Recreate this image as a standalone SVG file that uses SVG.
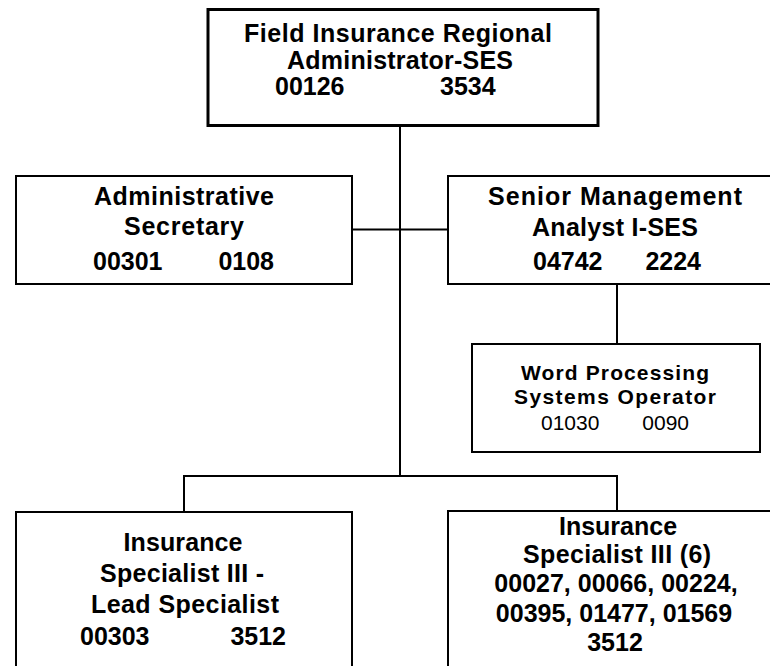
<svg xmlns="http://www.w3.org/2000/svg" width="770" height="666" viewBox="0 0 770 666">
  <style>
    .box { fill: #ffffff; stroke: #000000; stroke-width: 2; }
    .top { stroke-width: 3; }
    .wire { fill: none; stroke: #000000; stroke-width: 2; }
    .t { font-family: "Liberation Sans", Arial, sans-serif; font-weight: bold; font-size: 25px; fill: #000000; }
    .c { text-anchor: middle; }
    .e { text-anchor: end; }
    .s { font-size: 21px; }
    .n { font-weight: normal; }
  </style>
  <rect width="770" height="666" fill="#ffffff"/>

  <g id="connectors">
    <line class="wire" x1="400" y1="126" x2="400" y2="476"/>
    <line class="wire" x1="352" y1="229.5" x2="448" y2="229.5" stroke-width="1.6"/>
    <line class="wire" x1="617" y1="284" x2="617" y2="344"/>
    <polyline class="wire" points="184,512 184,476 617,476 617,511"/>
  </g>

  <g id="regional-administrator">
    <rect class="box top" x="208" y="9.5" width="390" height="116"/>
    <text class="t c" x="398" y="42" textLength="308">Field Insurance Regional</text>
    <text class="t c" x="400" y="68.5" textLength="226">Administrator-SES</text>
    <text class="t" x="275" y="95">00126</text>
    <text class="t" x="440" y="95">3534</text>
  </g>

  <g id="administrative-secretary">
    <rect class="box" x="16" y="176" width="336" height="108"/>
    <text class="t c" x="184" y="205" textLength="180">Administrative</text>
    <text class="t c" x="184" y="234.5" textLength="120">Secretary</text>
    <text class="t" x="93" y="270">00301</text>
    <text class="t e" x="274" y="270">0108</text>
  </g>

  <g id="senior-management-analyst">
    <rect class="box" x="448" y="176" width="334" height="108"/>
    <text class="t c" x="615" y="205" textLength="254">Senior Management</text>
    <text class="t c" x="615" y="236" textLength="166">Analyst I-SES</text>
    <text class="t" x="533" y="269.5">04742</text>
    <text class="t e" x="701" y="269.5">2224</text>
  </g>

  <g id="word-processing-operator">
    <rect class="box" x="472" y="344" width="288" height="108" stroke-width="1.8"/>
    <text class="t s c" x="615" y="380" textLength="188">Word Processing</text>
    <text class="t s c" x="615" y="403.5" textLength="202">Systems Operator</text>
    <text class="t s n" x="541" y="430">01030</text>
    <text class="t s n e" x="689" y="430">0090</text>
  </g>

  <g id="lead-specialist">
    <rect class="box" x="16" y="512" width="336" height="170"/>
    <text class="t c" x="183" y="551" textLength="119">Insurance</text>
    <text class="t c" x="182" y="582" textLength="164">Specialist III -</text>
    <text class="t c" x="185" y="613" textLength="188">Lead Specialist</text>
    <text class="t" x="80" y="645">00303</text>
    <text class="t e" x="286" y="645">3512</text>
  </g>

  <g id="insurance-specialists">
    <rect class="box" x="448" y="511" width="334" height="170"/>
    <text class="t c" x="618" y="535">Insurance</text>
    <text class="t c" x="617" y="563" textLength="188">Specialist III (6)</text>
    <text class="t c" x="616" y="592">00027, 00066, 00224,</text>
    <text class="t c" x="614" y="622">00395, 01477, 01569</text>
    <text class="t c" x="615" y="651">3512</text>
  </g>
</svg>
